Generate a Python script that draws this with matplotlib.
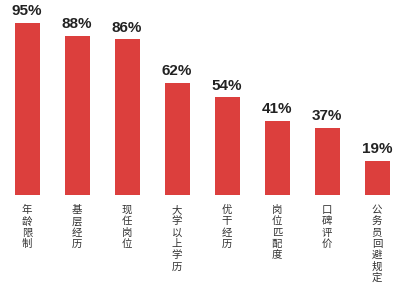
import matplotlib.pyplot as plt

plt.rcParams['font.family'] = ['Noto Sans CJK SC', 'DejaVu Sans']

categories = ["年龄限制", "基层经历", "现任岗位", "大学以上学历",
              "优干经历", "岗位匹配度", "口碑评价", "公务员回避规定"]
values = [95, 88, 86, 62, 54, 41, 37, 19]

fig = plt.figure(figsize=(4, 2.89), dpi=100)
ax = fig.add_axes([0, 0, 1, 1])

x = range(len(values))
ax.bar(x, values, width=0.5, color="#dc3f3d")

for i, v in zip(x, values):
    ax.text(i, v + 2.5, f"{v}%", ha="center", va="bottom",
            fontsize=11, fontweight="bold", color="#222222",
            family=["Liberation Sans", "DejaVu Sans"])
    # stack the characters vertically under each bar
    ax.text(i, -5.5, "\n".join(categories[i]), ha="center", va="top",
            fontsize=7.5, color="#333333", linespacing=1.16)

ax.set_xlim(-0.54, 7.46)
ax.set_ylim(-51.9, 107.7)
ax.axis("off")

fig.savefig("out.png", dpi=100)
